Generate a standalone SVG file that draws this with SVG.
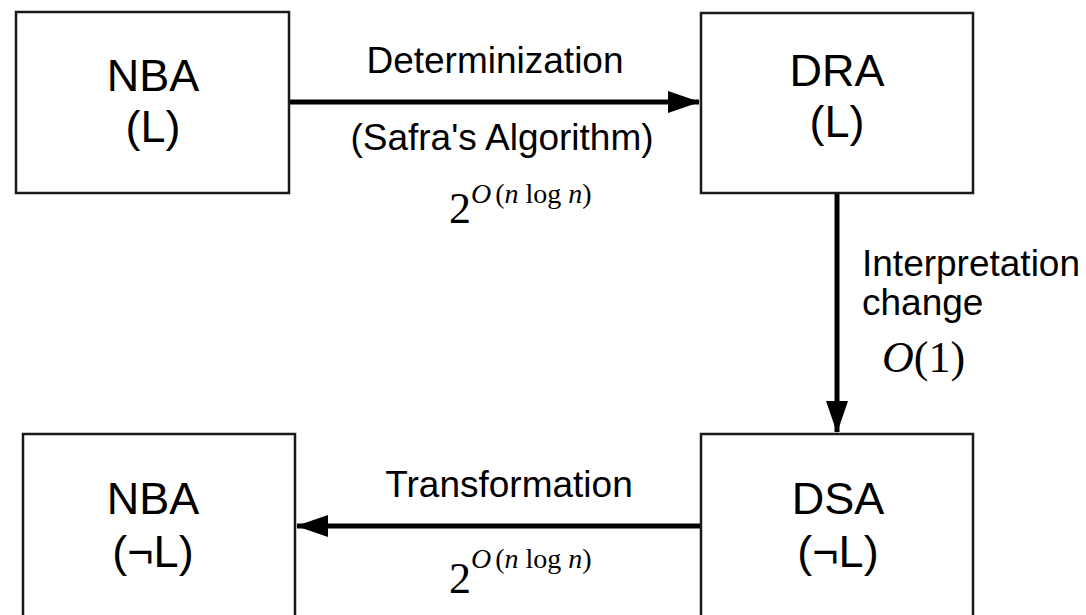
<svg xmlns="http://www.w3.org/2000/svg" width="1086" height="615" viewBox="0 0 1086 615">
  <style>
    .box { fill: #ffffff; stroke: #1a1a1a; stroke-width: 2.5; }
    .node { font-family: "Liberation Sans", Arial, sans-serif; font-size: 45px; fill: #000; text-anchor: middle; }
    .lbl { font-family: "Liberation Sans", Arial, sans-serif; font-size: 37px; fill: #000; }
    .math { font-family: "Liberation Serif", "DejaVu Serif", serif; fill: #000; }
    .edge { stroke: #000; stroke-width: 5; fill: none; }
  </style>
  <defs>
    <marker id="arrow" viewBox="0 0 32 22" refX="31" refY="11" markerWidth="32" markerHeight="22" markerUnits="userSpaceOnUse" orient="auto">
      <path d="M0,0 L32,11 L0,22 Z" fill="#000"/>
    </marker>
  </defs>
  <rect width="1086" height="615" fill="#ffffff"/>

  <g id="connectors">
    <line class="edge" x1="289" y1="102" x2="699" y2="102" marker-end="url(#arrow)"/>
    <line class="edge" x1="837" y1="193" x2="837" y2="432" marker-end="url(#arrow)"/>
    <line class="edge" x1="701" y1="526" x2="297" y2="526" marker-end="url(#arrow)"/>

    <g id="label-determinization">
      <text class="lbl" x="495" y="73" text-anchor="middle">Determinization</text>
      <text class="lbl" x="502" y="150" text-anchor="middle">(Safra's Algorithm)</text>
      <text class="math" x="449" y="223" font-size="44">2<tspan y="203" font-size="28"><tspan font-style="italic">O</tspan><tspan dx="4">(</tspan><tspan font-style="italic">n</tspan> log <tspan font-style="italic">n</tspan>)</tspan></text>
    </g>
    <g id="label-interpretation">
      <text class="lbl" x="862" y="276">Interpretation</text>
      <text class="lbl" x="862" y="315">change</text>
      <text class="math" x="882" y="372" font-size="44"><tspan font-style="italic">O</tspan>(1)</text>
    </g>
    <g id="label-transformation">
      <text class="lbl" x="509" y="497" text-anchor="middle">Transformation</text>
      <text class="math" x="449" y="593" font-size="44">2<tspan y="568" font-size="28"><tspan font-style="italic">O</tspan><tspan dx="4">(</tspan><tspan font-style="italic">n</tspan> log <tspan font-style="italic">n</tspan>)</tspan></text>
    </g>
  </g>

  <g id="nba-l">
    <rect class="box" x="16" y="12" width="273" height="181"/>
    <text class="node" x="153" y="91">NBA</text>
    <text class="node" x="153" y="142">(L)</text>
  </g>
  <g id="dra-l">
    <rect class="box" x="701" y="13" width="272" height="180"/>
    <text class="node" x="837" y="86">DRA</text>
    <text class="node" x="837" y="137">(L)</text>
  </g>
  <g id="nba-not-l">
    <rect class="box" x="23" y="434" width="272" height="190"/>
    <text class="node" x="153" y="514">NBA</text>
    <text class="node" x="153" y="567">(¬L)</text>
  </g>
  <g id="dsa-not-l">
    <rect class="box" x="701" y="434" width="272" height="190"/>
    <text class="node" x="838" y="514">DSA</text>
    <text class="node" x="838" y="567">(¬L)</text>
  </g>
</svg>
